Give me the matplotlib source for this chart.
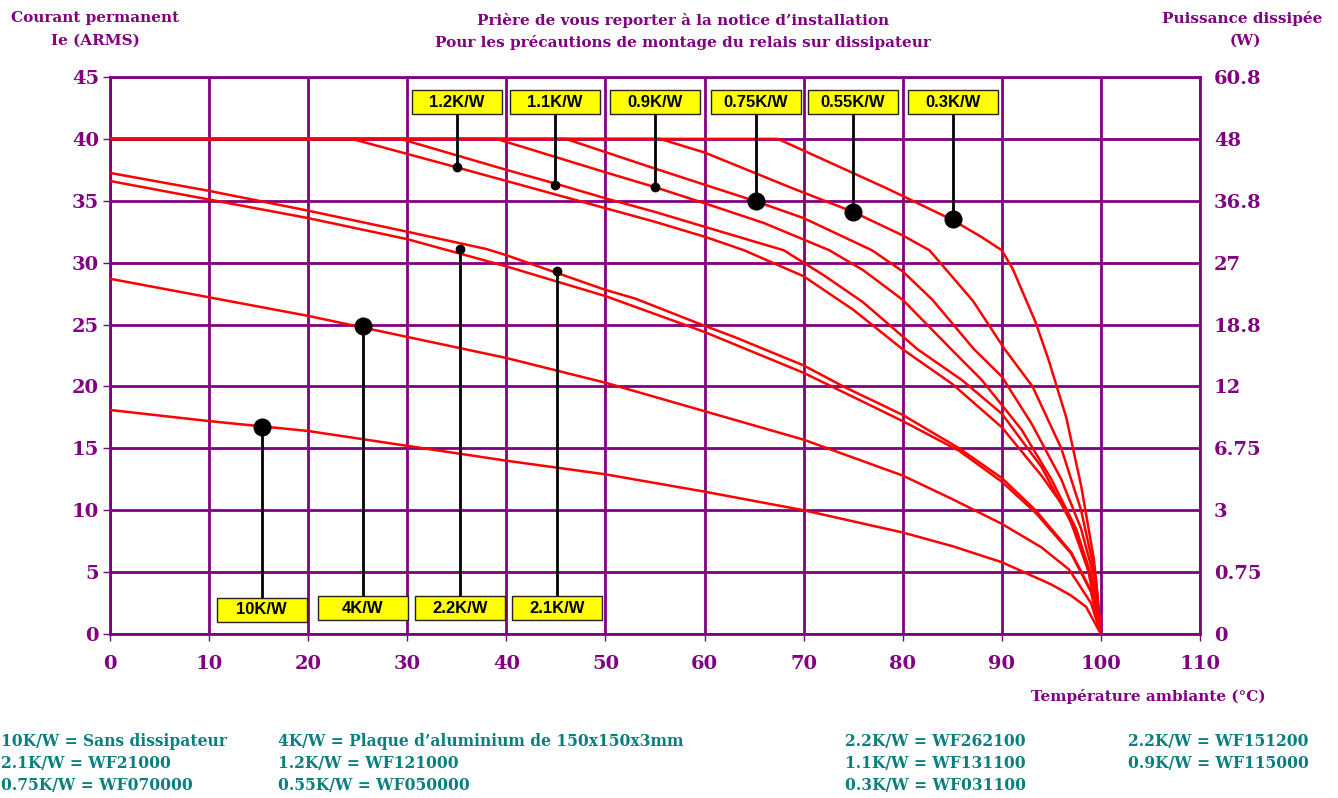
import matplotlib
matplotlib.use("Agg")
import matplotlib.pyplot as plt
from matplotlib.patches import Rectangle

PURPLE = "#800080"
TEAL = "#0A7F7F"
RED = "#FF0000"

# ---------------- data ----------------
x_10k = [0, 10, 20, 30, 40, 50, 60, 70, 80, 85, 90, 95, 97, 98.5, 100]
y_10k = [18.1, 17.2, 16.4, 15.2, 14.0, 12.9, 11.5, 10.0, 8.2, 7.1, 5.8, 4.0, 3.1, 2.2, 0]

x_4k = [0, 10, 20, 30, 40, 50, 60, 70, 80, 85, 90, 94, 96.8, 99, 100]
y_4k = [28.7, 27.2, 25.7, 24.0, 22.3, 20.3, 18.0, 15.7, 12.8, 10.9, 8.9, 7.0, 5.2, 2.5, 0]

x_2_1k = [0, 10, 20, 30, 40, 50, 60, 70, 80, 85.7, 90, 93.4, 97, 99, 100]
y_2_1k = [36.6, 35.1, 33.6, 31.9, 29.7, 27.3, 24.4, 21.1, 17.2, 14.8, 12.3, 9.8, 6.5, 3.4, 0]

x_2_2k = [0, 10, 20, 30, 38, 40, 50, 53, 60, 63, 70, 74, 80, 85.7, 90, 93.4, 97, 99, 100]
y_2_2k = [37.25, 35.8, 34.2, 32.5, 31.1, 30.6, 27.8, 27.1, 24.9, 24.0, 21.7, 20.0, 17.7, 15.0, 12.6, 10.0, 6.6, 3.5, 0]

x_1_2k = [0, 24.4, 35, 45, 55, 60, 64, 70, 75, 80, 85, 90, 94, 96.5, 98.5, 100]
y_1_2k = [40, 40, 37.7, 35.5, 33.3, 32.1, 31.0, 28.9, 26.2, 23.0, 20.2, 16.7, 12.8, 10.0, 6.0, 0]

x_1_1k = [0, 29.3, 40, 44.9, 50, 55, 60, 68, 72, 76, 81.5, 86, 90, 94, 97, 99, 100]
y_1_1k = [40, 40, 37.5, 36.4, 35.2, 34.1, 32.9, 31.0, 29.0, 26.8, 23.0, 20.5, 17.8, 13.5, 9.0, 4.5, 0]

x_0_9k = [0, 39, 50, 55, 60, 66, 72.6, 76, 80, 84.9, 88, 92, 95, 97.5, 99.3, 100]
y_0_9k = [40, 40, 37.3, 36.1, 34.8, 33.2, 31.0, 29.4, 27.0, 23.0, 20.5, 16.5, 12.5, 8.5, 4.0, 0]

x_0_75k = [0, 46, 55, 60, 65.2, 70, 76.9, 80, 83, 87.2, 90, 93, 96, 98, 99.5, 100]
y_0_75k = [40, 40, 37.6, 36.3, 34.95, 33.6, 31.0, 29.3, 27.0, 23.0, 20.8, 17.0, 12.5, 8.5, 4.0, 0]

x_0_55k = [0, 55.5, 60, 68.6, 75, 80, 82.7, 87.1, 90.3, 93.1, 96, 98, 99.5, 100]
y_0_55k = [40, 40, 38.9, 36.1, 34.1, 32.2, 31.0, 26.9, 23.0, 20.0, 15.0, 10.0, 4.5, 0]

x_0_3k = [0, 67.4, 78.4, 84.9, 87.9, 90, 91.1, 93.4, 94.7, 96.5, 98, 99.3, 100]
y_0_3k = [40, 40, 36.0, 33.5, 32.1, 31.0, 29.5, 25.2, 22.2, 17.5, 12.0, 6.0, 0]

curves = [(x_10k, y_10k), (x_4k, y_4k), (x_2_1k, y_2_1k), (x_2_2k, y_2_2k),
          (x_1_2k, y_1_2k), (x_1_1k, y_1_1k), (x_0_9k, y_0_9k),
          (x_0_75k, y_0_75k), (x_0_55k, y_0_55k), (x_0_3k, y_0_3k)]

# annotation markers (label, x, y)
top_labels = ["1.2K/W", "1.1K/W", "0.9K/W", "0.75K/W", "0.55K/W", "0.3K/W"]
top_dot_x = [35, 44.9, 55, 65.2, 75, 85.1]
top_dot_y = [37.7, 36.3, 36.1, 34.95, 34.1, 33.5]
top_dot_big = [False, False, False, True, True, True]

bot_labels = ["10K/W", "4K/W", "2.2K/W", "2.1K/W"]
bot_dot_x = [15.3, 25.5, 35.3, 45.1]
bot_dot_y = [16.7, 24.9, 31.1, 29.3]
bot_dot_big = [True, True, False, False]

x_ticks = [0, 10, 20, 30, 40, 50, 60, 70, 80, 90, 100, 110]
y_ticks = [0, 5, 10, 15, 20, 25, 30, 35, 40, 45]
right_tick_labels = ["0", "0.75", "3", "6.75", "12", "18.8", "27", "36.8", "48", "60.8"]

footnotes = [
    ["10K/W = Sans dissipateur", "2.1K/W = WF21000", "0.75K/W = WF070000"],
    ["4K/W = Plaque d\u2019aluminium de 150x150x3mm", "1.2K/W = WF121000", "0.55K/W = WF050000"],
    ["2.2K/W = WF262100", "1.1K/W = WF131100", "0.3K/W = WF031100"],
    ["2.2K/W = WF151200", "0.9K/W = WF115000"],
]

# ---------------- figure ----------------
W, H = 1338, 798
fig = plt.figure(figsize=(W / 100, H / 100), dpi=100)
ax = fig.add_axes([110 / W, 1 - 634 / H, 1090 / W, 557 / H])
ax.set_xlim(0, 110)
ax.set_ylim(0, 45)

SERIF = "DejaVu Serif"

# grid
for xv in x_ticks:
    ax.axvline(xv, color=PURPLE, lw=2.0, zorder=1)
for yv in y_ticks:
    ax.axhline(yv, color=PURPLE, lw=2.0, zorder=1)
for s in ax.spines.values():
    s.set_color(PURPLE)
    s.set_linewidth(2.0)

for xs, ys in curves:
    ax.plot(xs, ys, color=RED, lw=1.8, zorder=3, solid_joinstyle="miter")

ax.set_xticks(x_ticks)
ax.set_yticks(y_ticks)
ax.set_xticklabels([str(v) for v in x_ticks])
ax.set_yticklabels([str(v) for v in y_ticks])
ax.tick_params(axis="both", colors=PURPLE, length=5, width=1.0, direction="out")
ax.tick_params(axis="x", pad=10)
ax.tick_params(axis="y", pad=3)
for lab in ax.get_xticklabels() + ax.get_yticklabels():
    lab.set_fontfamily(SERIF)
    lab.set_fontweight("bold")
    lab.set_fontsize(14)
    lab.set_color(PURPLE)

ax2 = ax.twinx()
ax2.set_ylim(0, 45)
ax2.set_yticks(y_ticks)
ax2.set_yticklabels(right_tick_labels)
ax2.tick_params(axis="y", length=0, pad=10, colors=PURPLE)
for lab in ax2.get_yticklabels():
    lab.set_fontfamily(SERIF)
    lab.set_fontweight("bold")
    lab.set_fontsize(14)
    lab.set_color(PURPLE)
for s in ax2.spines.values():
    s.set_visible(False)

# annotation boxes
BOX_W = 9.1
BOX_H = 1.95
TOP_BOX_Y = 42.0
BOT_BOX_Y = 1.12


def draw_marker(lbl, x, y, big, box_y, above):
    if above:
        ax.plot([x, x], [y, box_y], color="black", lw=2.0, zorder=4)
    else:
        ax.plot([x, x], [box_y + BOX_H, y], color="black", lw=2.0, zorder=4)
    ax.plot([x], [y], marker="o", color="black", ms=12 if big else 6, zorder=5)
    ax.add_patch(Rectangle((x - BOX_W / 2, box_y), BOX_W, BOX_H, facecolor="#FFFF00",
                           edgecolor="#222222", lw=1.0, zorder=6, clip_on=False))
    ax.text(x, box_y + BOX_H / 2, lbl, ha="center", va="center", fontsize=12,
            fontweight="bold", family="Liberation Sans", color="black", zorder=7)


for lbl, xx, yy, big in zip(top_labels, top_dot_x, top_dot_y, top_dot_big):
    draw_marker(lbl, xx, yy, big, TOP_BOX_Y, True)
for i, (lbl, xx, yy, big) in enumerate(zip(bot_labels, bot_dot_x, bot_dot_y, bot_dot_big)):
    draw_marker(lbl, xx, yy, big, BOT_BOX_Y - (0.15 if i == 0 else 0), False)

# texts
TS = 11
fig.text(95 / W, 1 - 18 / H, "Courant permanent", ha="center", va="center",
         family=SERIF, fontweight="bold", fontsize=TS, color=PURPLE)
fig.text(95 / W, 1 - 41 / H, "Ie (ARMS)", ha="center", va="center",
         family=SERIF, fontweight="bold", fontsize=TS, color=PURPLE)
fig.text(1242 / W, 1 - 18 / H, "Puissance dissip\u00e9e", ha="center", va="center",
         family=SERIF, fontweight="bold", fontsize=TS, color=PURPLE)
fig.text(1245 / W, 1 - 41 / H, "(W)", ha="center", va="center",
         family=SERIF, fontweight="bold", fontsize=TS, color=PURPLE)
fig.text(683 / W, 1 - 20 / H, "Pri\u00e8re de vous reporter \u00e0 la notice d\u2019installation",
         ha="center", va="center", family=SERIF, fontweight="bold", fontsize=TS, color=PURPLE)
fig.text(683 / W, 1 - 43 / H, "Pour les pr\u00e9cautions de montage du relais sur dissipateur",
         ha="center", va="center", family=SERIF, fontweight="bold", fontsize=TS, color=PURPLE)
fig.text(1148 / W, 1 - 697 / H, "Temp\u00e9rature ambiante (\u00b0C)", ha="center", va="center",
         family=SERIF, fontweight="bold", fontsize=TS, color=PURPLE)

col_x = [1, 278, 845, 1128]
row_y = [742, 764, 786]
for cx, col in zip(col_x, footnotes):
    for ry, t in zip(row_y, col):
        fig.text(cx / W, 1 - ry / H, t, ha="left", va="center", family=SERIF,
                 fontsize=11.2, fontweight="bold", color=TEAL)

fig.savefig("out.png", dpi=100)
